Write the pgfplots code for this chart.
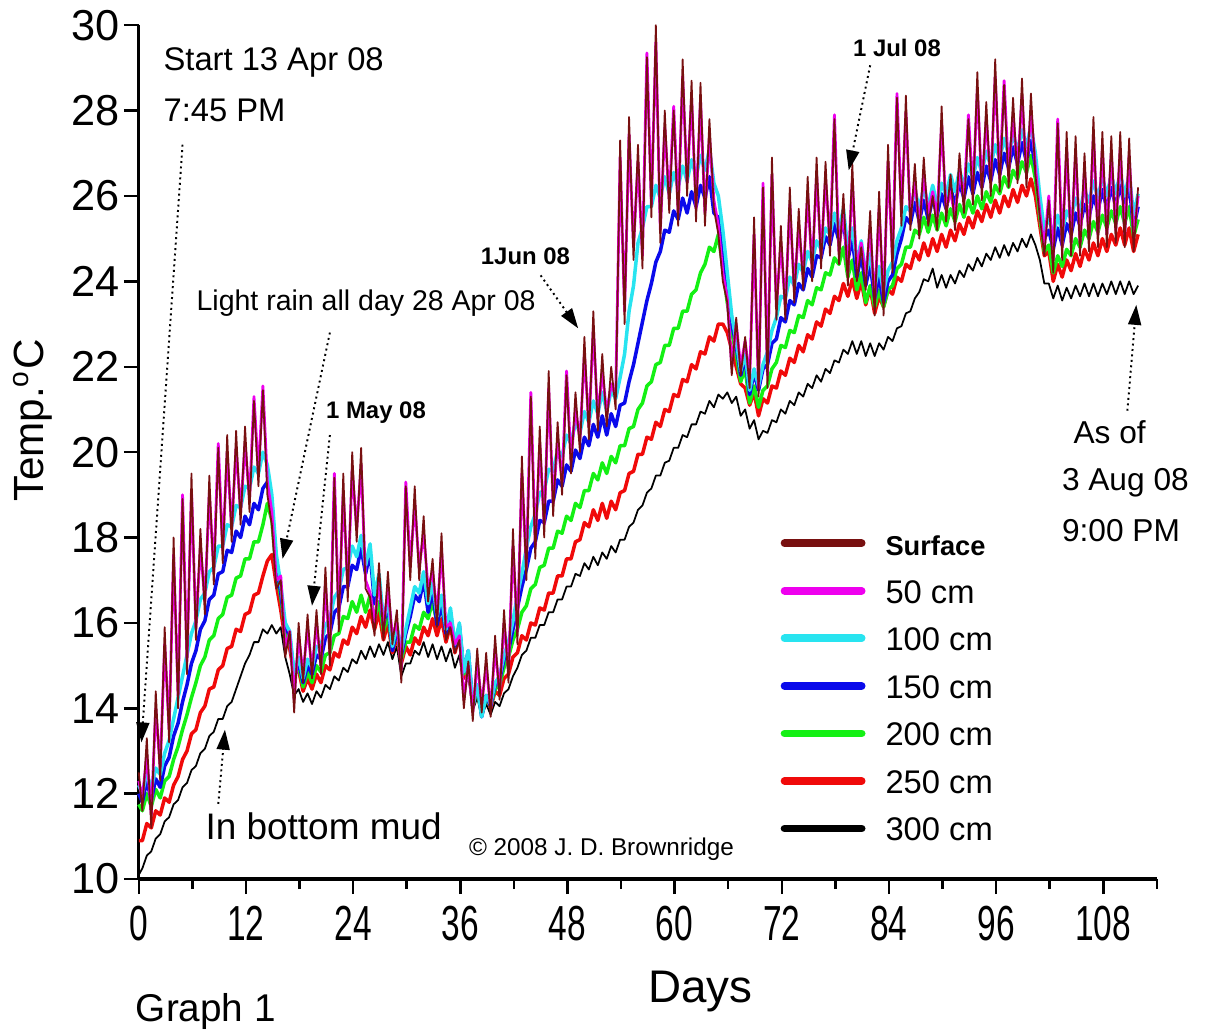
\documentclass[border=0pt]{standalone}
\usepackage{fontspec}
\setmainfont{Liberation Sans}
\newfontfamily\narrowfont[FakeStretch=0.68]{Liberation Sans}
\usepackage{pgfplots}
\usepackage{pgfplotstable}
\pgfplotsset{compat=1.18}
\usetikzlibrary{arrows.meta}

% x = days since start; S = surface, M..K = 50..300 cm
\pgfplotstableread{
x S M C B G R K
0 12.5 12.3 12.2 12.0 11.75 10.9 10.1
0.4 11.6 11.9 12.0 11.8 11.6 10.9 10.25
0.9 13.3 12.9 12.5 12.3 12.0 11.3 10.55
1.4 11.2 11.5 12.1 11.85 11.7 11.2 10.65
1.9 14.4 14.0 12.6 12.35 12.1 11.6 10.95
2.4 12.3 12.6 12.45 12.15 11.9 11.5 11.05
2.9 15.9 15.5 12.95 12.65 12.3 11.9 11.35
3.4 13.2 13.5 13.25 12.85 12.4 11.8 11.45
3.9 18.0 17.6 13.75 13.35 12.8 12.2 11.75
4.4 14.0 14.3 14.25 13.65 13.1 12.4 11.85
4.9 18.9 19.0 14.75 14.15 13.5 12.8 12.15
5.4 14.8 15.1 15.25 14.55 13.85 13.0 12.25
5.9 19.5 19.1 15.75 15.05 14.25 13.4 12.55
6.4 15.6 15.9 16.05 15.35 14.6 13.5 12.65
6.9 18.2 17.8 16.55 15.85 15.0 13.9 12.95
7.4 16.2 16.5 16.7 16.05 15.2 14.05 13.05
7.9 19.45 19.05 17.2 16.55 15.6 14.45 13.35
8.4 16.9 17.2 17.3 16.65 15.7 14.5 13.45
8.9 20.1 20.2 17.8 17.15 16.1 14.9 13.75
9.4 17.4 17.7 17.8 17.2 16.2 15.0 13.75
9.9 20.4 20.0 18.3 17.7 16.6 15.4 14.05
10.4 17.9 18.2 18.25 17.65 16.65 15.45 14.15
10.9 20.5 20.1 18.75 18.15 17.05 15.85 14.45
11.4 18.3 18.6 18.7 18.0 17.1 15.8 14.75
11.9 20.6 20.2 19.2 18.5 17.5 16.2 15.05
12.4 18.6 18.9 19.15 18.3 17.5 16.25 15.25
12.9 21.2 21.3 19.65 18.8 17.9 16.65 15.55
13.4 19.2 19.5 19.5 18.65 17.9 16.7 15.55
13.9 21.45 21.55 20.0 19.15 18.3 17.1 15.85
14.4 19.0 19.3 19.7 19.3 18.8 17.45 15.75
14.9 18.3 18.6 19.0 18.8 18.4 17.6 15.95
15.4 16.8 17.0 17.6 17.4 17.2 16.9 15.75
15.9 17.0 17.1 16.9 16.7 16.6 16.3 15.9
16.4 15.2 15.4 16.0 15.9 15.8 15.6 15.2
16.9 15.8 15.8 15.8 15.7 15.6 15.4 14.8
17.4 13.9 14.2 14.8 14.7 14.8 14.8 14.3
17.9 16.0 15.7 15.2 15.1 15.0 14.9 14.45
18.4 14.6 14.8 14.7 14.6 14.5 14.4 14.15
18.9 16.2 15.9 15.15 15.0 14.85 14.7 14.35
19.4 14.7 14.9 14.95 14.8 14.6 14.45 14.1
19.9 16.3 16.0 15.45 15.25 15.0 14.8 14.4
20.4 14.8 15.0 15.45 15.15 14.85 14.6 14.25
20.9 17.3 16.9 15.95 15.65 15.25 15.0 14.55
21.4 15.0 15.3 16.1 15.75 15.3 14.9 14.45
21.9 19.4 19.5 16.6 16.25 15.7 15.3 14.75
22.4 15.8 16.1 16.75 16.35 15.75 15.2 14.65
22.9 19.5 19.1 17.25 16.85 16.15 15.6 14.95
23.4 16.5 16.8 17.3 16.85 16.1 15.5 14.85
23.9 20.0 19.6 17.8 17.35 16.5 15.9 15.15
24.4 17.9 18.2 17.55 17.25 16.25 15.75 15.05
24.9 20.1 19.7 18.05 17.75 16.65 16.15 15.35
25.4 16.8 17.0 17.35 17.15 16.25 15.9 15.15
25.9 16.6 16.7 17.85 17.65 16.65 16.3 15.45
26.4 15.7 16.0 16.65 16.45 16.1 15.85 15.2
26.9 17.4 17.0 17.15 16.95 16.5 16.25 15.5
27.4 15.6 15.9 16.05 15.95 15.8 15.6 15.25
27.9 17.2 16.8 16.55 16.45 16.2 16.0 15.55
28.4 15.5 15.7 15.45 15.35 15.4 15.3 15.15
28.9 16.3 16.0 15.95 15.85 15.8 15.7 15.45
29.4 14.6 14.9 15.35 15.25 15.15 15.05 14.75
29.9 19.2 19.3 15.85 15.75 15.55 15.45 15.05
30.4 17.0 17.3 16.35 16.15 15.55 15.25 15.05
30.9 19.2 18.8 16.85 16.65 15.95 15.65 15.35
31.4 17.0 17.3 16.7 16.5 15.85 15.5 15.25
31.9 18.5 18.1 17.2 17.0 16.25 15.9 15.55
32.4 16.5 16.8 16.45 16.25 16.1 15.7 15.2
32.9 17.5 17.2 16.95 16.75 16.5 16.1 15.5
33.4 15.9 16.2 16.15 15.95 16.0 15.7 15.15
33.9 18.1 17.7 16.65 16.45 16.4 16.1 15.45
34.4 15.6 15.9 15.85 15.75 15.8 15.55 15.1
34.9 15.9 16.0 16.35 16.25 16.2 15.95 15.4
35.4 15.3 15.5 15.5 15.45 15.45 15.3 14.95
35.9 15.6 15.7 16.0 15.95 15.85 15.7 15.25
36.4 14.0 14.2 14.85 14.85 14.8 14.7 14.45
36.9 15.1 15.0 15.35 15.35 15.2 15.1 14.75
37.4 13.7 13.9 14.05 14.05 14.05 14.05 13.95
37.9 15.4 15.1 14.55 14.55 14.45 14.45 14.25
38.4 13.9 14.1 13.8 13.8 13.85 13.9 13.8
38.9 15.3 15.0 14.3 14.3 14.25 14.3 14.1
39.4 13.8 14.0 14.1 14.05 14.05 14.0 13.85
39.9 15.7 15.4 14.6 14.55 14.45 14.4 14.15
40.4 14.2 14.4 14.75 14.65 14.55 14.3 14.05
40.9 16.3 16.0 15.25 15.15 14.95 14.7 14.35
41.4 14.6 14.9 15.55 15.35 15.2 14.8 14.45
41.9 18.2 17.8 16.05 15.85 15.6 15.2 14.75
42.4 15.5 15.8 16.65 16.35 15.85 15.3 14.95
42.9 19.9 19.5 17.15 16.85 16.25 15.7 15.25
43.4 17.0 17.3 17.75 17.25 16.4 15.6 15.35
43.9 21.3 21.4 18.25 17.75 16.8 16.0 15.65
44.4 17.5 17.8 18.55 17.9 16.9 15.95 15.65
44.9 20.6 20.2 19.05 18.4 17.3 16.35 15.95
45.4 18.0 18.3 19.1 18.35 17.35 16.3 15.95
45.9 21.9 21.5 19.6 18.85 17.75 16.7 16.25
46.4 18.5 18.8 19.55 18.85 17.75 16.7 16.25
46.9 20.7 20.3 20.05 19.35 18.15 17.1 16.55
47.4 19.0 19.3 19.9 19.2 18.1 17.1 16.55
47.9 21.8 21.9 20.4 19.7 18.5 17.5 16.85
48.4 19.5 19.8 20.2 19.55 18.4 17.5 16.85
48.9 21.4 21.0 20.7 20.05 18.8 17.9 17.15
49.4 20.0 20.3 20.45 19.85 18.7 17.95 17.1
49.9 22.7 22.3 20.95 20.35 19.1 18.35 17.4
50.4 20.3 20.6 20.7 20.15 19.1 18.25 17.25
50.9 23.3 22.9 21.2 20.65 19.5 18.65 17.55
51.4 20.5 20.8 20.9 20.35 19.35 18.4 17.35
51.9 22.3 21.9 21.4 20.85 19.75 18.8 17.65
52.4 20.6 20.9 20.95 20.4 19.5 18.45 17.5
52.9 22.0 21.6 21.45 20.9 19.9 18.85 17.8
53.4 21.0 21.3 21.25 20.6 19.75 18.65 17.65
53.9 27.3 26.9 21.75 21.1 20.15 19.05 17.95
54.4 23.0 23.3 22.3 21.15 20.15 19.1 17.95
54.9 27.85 27.45 23.3 21.65 20.55 19.5 18.25
55.4 24.5 24.8 23.9 22.05 20.6 19.55 18.35
55.9 27.2 26.8 24.9 22.55 21.0 19.95 18.65
56.4 24.3 24.6 25.25 23.05 21.15 19.95 18.75
56.9 29.25 29.35 25.75 23.55 21.55 20.35 19.05
57.4 25.5 25.8 25.75 23.95 21.65 20.3 19.15
57.9 30.0 29.6 26.25 24.45 22.05 20.7 19.45
58.4 24.9 25.2 25.95 24.7 22.1 20.6 19.45
58.9 28.0 27.6 26.45 25.2 22.5 21.0 19.75
59.4 25.6 25.9 26.05 25.15 22.5 20.95 19.8
59.9 28.0 28.1 26.55 25.65 22.9 21.35 20.1
60.4 25.3 25.6 26.2 25.45 22.9 21.3 20.1
60.9 29.2 28.8 26.7 25.95 23.3 21.7 20.4
61.4 26.0 26.3 26.35 25.6 23.3 21.65 20.35
61.9 28.7 28.3 26.85 26.1 23.7 22.05 20.65
62.4 25.4 25.7 26.45 25.75 23.8 21.95 20.65
62.9 28.65 28.25 26.95 26.25 24.2 22.35 20.95
63.4 25.3 25.6 26.6 25.95 24.4 22.3 20.9
63.9 27.8 27.4 27.1 26.45 24.8 22.7 21.2
64.4 25.7 25.9 26.3 25.6 24.7 22.6 21.05
64.9 25.1 25.3 26.0 25.5 25.1 23.0 21.35
65.4 24.0 24.2 25.2 24.8 24.3 23.0 21.25
65.9 23.5 23.6 24.2 23.9 23.5 22.8 21.4
66.4 21.8 22.0 23.2 23.0 22.8 22.4 21.15
66.9 23.15 23.0 22.6 22.5 22.3 22.0 21.3
67.4 21.8 22.0 21.9 21.8 21.65 21.6 20.85
67.9 22.7 22.6 22.3 22.2 21.95 21.5 21.0
68.4 21.5 21.7 21.45 21.35 21.15 21.1 20.55
68.9 25.5 25.1 21.95 21.85 21.55 21.4 20.75
69.4 21.3 21.5 21.55 21.45 21.05 20.85 20.3
69.9 26.2 26.3 22.05 21.95 21.45 21.25 20.5
70.4 21.5 21.8 22.35 22.05 21.55 21.15 20.45
70.9 26.9 26.5 22.85 22.55 21.95 21.55 20.75
71.4 23.1 23.4 23.15 22.65 22.1 21.5 20.7
71.9 25.3 24.9 23.65 23.15 22.5 21.9 21.0
72.4 23.1 23.4 23.6 23.05 22.45 21.8 20.9
72.9 26.2 25.8 24.1 23.55 22.85 22.2 21.2
73.4 23.5 23.8 23.9 23.45 22.8 22.1 21.1
73.9 25.7 25.3 24.4 23.95 23.2 22.5 21.4
74.4 23.8 24.1 24.2 23.8 23.15 22.35 21.3
74.9 26.45 26.05 24.7 24.3 23.55 22.75 21.6
75.4 24.0 24.3 24.45 24.1 23.45 22.65 21.5
75.9 26.9 26.5 24.95 24.6 23.85 23.05 21.8
76.4 24.3 24.6 24.75 24.55 23.8 22.95 21.65
76.9 26.8 26.4 25.25 25.05 24.2 23.35 21.95
77.4 24.6 24.9 25.1 24.85 24.15 23.25 21.85
77.9 27.8 27.9 25.6 25.35 24.55 23.65 22.15
78.4 24.4 24.7 25.2 24.95 24.4 23.55 22.1
78.9 26.05 25.65 25.7 25.45 24.8 23.95 22.4
79.4 23.9 24.2 24.75 24.5 24.1 23.65 22.3
79.9 26.75 26.35 25.25 25.0 24.5 24.05 22.6
80.4 24.0 24.3 24.45 24.1 23.8 23.6 22.3
80.9 24.8 24.9 24.95 24.6 24.2 24.0 22.6
81.4 23.8 24.1 24.15 23.9 23.5 23.45 22.25
81.9 25.65 25.25 24.65 24.4 23.9 23.85 22.55
82.4 23.2 23.5 23.85 23.6 23.4 23.25 22.25
82.9 26.1 25.7 24.35 24.1 23.8 23.65 22.55
83.4 23.2 23.5 23.75 23.5 23.4 23.4 22.4
83.9 27.2 26.8 24.25 24.0 23.8 23.8 22.7
84.4 24.2 24.5 24.45 24.15 23.9 23.7 22.6
84.9 28.3 28.4 24.95 24.65 24.3 24.1 22.9
85.4 25.3 25.6 25.25 25.0 24.4 24.0 22.95
85.9 28.35 27.95 25.75 25.5 24.8 24.4 23.25
86.4 25.2 25.5 25.65 25.35 24.8 24.3 23.3
86.9 26.75 26.35 26.15 25.85 25.2 24.7 23.6
87.4 25.0 25.3 25.7 25.4 25.1 24.5 23.75
87.9 26.9 26.5 26.2 25.9 25.5 24.9 24.05
88.4 25.3 25.6 25.75 25.45 25.15 24.6 24.0
88.9 26.0 26.1 26.25 25.95 25.55 25.0 24.3
89.4 25.2 25.5 25.8 25.55 25.2 24.7 23.85
89.9 28.1 27.7 26.3 26.05 25.6 25.1 24.15
90.4 25.4 25.7 26.0 25.7 25.3 24.8 23.85
90.9 26.5 26.1 26.5 26.2 25.7 25.2 24.15
91.4 25.2 25.5 26.1 25.8 25.4 24.95 23.95
91.9 27.0 26.6 26.6 26.3 25.8 25.35 24.25
92.4 25.6 25.9 26.25 25.95 25.5 25.1 24.1
92.9 27.8 27.9 26.75 26.45 25.9 25.5 24.4
93.4 25.8 26.1 26.4 26.05 25.6 25.25 24.25
93.9 28.9 28.5 26.9 26.55 26.0 25.65 24.55
94.4 25.9 26.2 26.55 26.2 25.7 25.4 24.35
94.9 28.2 27.8 27.05 26.7 26.1 25.8 24.65
95.4 26.0 26.3 26.7 26.35 25.85 25.5 24.5
95.9 29.2 28.8 27.2 26.85 26.25 25.9 24.8
96.4 26.1 26.4 26.85 26.5 26.05 25.6 24.55
96.9 28.6 28.7 27.35 27.0 26.45 26.0 24.85
97.4 26.2 26.5 26.95 26.65 26.2 25.75 24.6
97.9 28.3 27.9 27.45 27.15 26.6 26.15 24.9
98.4 26.3 26.6 27.05 26.75 26.4 25.85 24.7
98.9 28.75 28.35 27.55 27.25 26.8 26.25 25.0
99.4 26.2 26.5 27.15 26.8 26.55 26.0 24.8
99.9 28.4 28.0 27.65 27.3 26.95 26.4 25.1
100.4 26.5 26.7 27.0 26.7 26.4 26.0 24.85
100.9 25.5 25.6 26.0 25.8 25.5 25.3 24.5
101.4 24.6 24.8 25.2 25.0 24.7 24.6 23.95
101.9 25.9 26.0 25.5 25.2 24.85 24.7 23.95
102.4 24.2 24.5 25.05 24.75 24.2 24.0 23.6
102.9 27.7 27.8 25.55 25.25 24.6 24.4 23.9
103.4 24.5 24.8 25.15 24.85 24.35 24.1 23.55
103.9 27.5 27.1 25.65 25.35 24.75 24.5 23.85
104.4 24.6 24.9 25.45 25.1 24.6 24.25 23.6
104.9 27.4 27.0 25.95 25.6 25.0 24.65 23.9
105.4 24.6 24.9 25.65 25.3 24.8 24.35 23.65
105.9 27.0 26.6 26.15 25.8 25.2 24.75 23.95
106.4 24.7 25.0 25.85 25.5 25.0 24.5 23.65
106.9 27.85 27.45 26.35 26.0 25.4 24.9 23.95
107.4 24.8 25.1 25.95 25.65 25.15 24.6 23.65
107.9 27.5 27.1 26.45 26.15 25.55 25.0 23.95
108.4 24.8 25.1 26.0 25.7 25.25 24.7 23.7
108.9 27.4 27.0 26.5 26.2 25.65 25.1 24.0
109.4 24.9 25.2 26.05 25.75 25.35 24.85 23.7
109.9 27.5 27.1 26.55 26.25 25.75 25.25 24.0
110.4 24.8 25.1 26.0 25.75 25.35 24.85 23.7
110.9 27.35 26.95 26.5 26.25 25.75 25.25 24.0
111.4 24.7 25.0 25.55 25.25 25.05 24.7 23.7
111.9 26.2 26.0 26.05 25.75 25.45 25.1 23.9
}\tempdata

\definecolor{surfcol}{RGB}{120,16,16}
\definecolor{cm50}{RGB}{238,0,238}
\definecolor{cm100}{RGB}{40,228,240}
\definecolor{cm150}{RGB}{10,10,235}
\definecolor{cm200}{RGB}{20,240,20}
\definecolor{cm250}{RGB}{240,10,10}

\tikzset{note/.style={inner sep=0pt, anchor=west},
  callout/.style={densely dotted, line width=0.55pt, -{Triangle[length=0.2cm,width=0.13cm]}}}

\begin{document}
\begin{tikzpicture}
\begin{axis}[
    width=10.17cm, height=8.53cm, scale only axis,
    xmin=0, xmax=114, ymin=10, ymax=30,
    axis x line*=bottom, axis y line*=left,
    axis line style={line width=0.9pt, -},
    xtick={0,12,...,108}, minor xtick={6,18,...,114},
    ytick={10,12,...,30},
    tick align=outside,
    major tick length=0.15cm, minor tick length=0.1cm,
    every tick/.style={black, line width=0.7pt},
    /pgf/number format/assume math mode=true,
    xticklabel style={font=\narrowfont\fontsize{14}{14}\selectfont},
    yticklabel style={font=\fontsize{12.3}{12.3}\selectfont, xshift=0.08cm},
    clip=false, no markers,
    legend style={at={(axis cs:71.8,18.44)}, anchor=north west, draw=none, fill=none,
        inner sep=0pt, row sep=0pt, column sep=0.2cm,
        font=\fontsize{9.3}{9.3}\selectfont,
        nodes={inner sep=0pt, text height=0.36cm, text depth=0.115cm}},
    legend cell align=left,
    legend image code/.code={\draw[#1, line width=2.2pt, line cap=round] (0cm,0cm) -- (0.77cm,0cm);},
    reverse legend,
]
\addplot[black, line width=0.5pt, line join=round] table[x=x, y=K] {\tempdata};
\addplot[cm250, line width=1pt, line join=round] table[x=x, y=R] {\tempdata};
\addplot[cm200, line width=1pt, line join=round] table[x=x, y=G] {\tempdata};
\addplot[cm150, line width=1pt, line join=round] table[x=x, y=B] {\tempdata};
\addplot[cm100, line width=1pt, line join=round] table[x=x, y=C] {\tempdata};
\addplot[cm50, line width=0.8pt, line join=round] table[x=x, y=M] {\tempdata};
\addplot[surfcol, line width=0.5pt, line join=round] table[x=x, y=S] {\tempdata};
\legend{300 cm, 250 cm, 200 cm, 150 cm, 100 cm, 50 cm, \textbf{\fontsize{7.75}{8}\selectfont Surface}}

% annotations
\node[note, font=\fontsize{9.3}{10}\selectfont] at (axis cs:2.7,29.13) {Start 13 Apr 08};
\node[note, font=\fontsize{9.3}{10}\selectfont] at (axis cs:2.7,28.0) {7:45 PM};
\draw[callout] (axis cs:4.9,27.2) -- (axis cs:0.3,13.2);
\node[note, font=\fontsize{8.1}{9}\selectfont] at (axis cs:6.4,23.48) {Light rain all day 28 Apr 08};
\draw[callout] (axis cs:21.4,22.8) -- (axis cs:16.1,17.5);
\node[note, font=\bfseries\fontsize{6.8}{8}\selectfont] at (axis cs:20.9,20.93) {1 May 08};
\draw[callout] (axis cs:21.4,20.4) -- (axis cs:19.4,16.4);
\node[inner sep=0pt, font=\bfseries\fontsize{6.8}{8}\selectfont] at (axis cs:43.3,24.58) {1Jun 08};
\draw[callout] (axis cs:45.0,24.14) -- (axis cs:49.2,22.9);
\node[inner sep=0pt, font=\bfseries\fontsize{6.8}{8}\selectfont] at (axis cs:84.9,29.46) {1 Jul 08};
\draw[callout] (axis cs:81.9,29.06) -- (axis cs:79.5,26.6);
\node[note, font=\fontsize{9}{10}\selectfont] at (axis cs:104.6,20.46) {As of};
\node[note, font=\fontsize{9}{10}\selectfont] at (axis cs:103.3,19.28) {3 Aug 08};
\node[note, font=\fontsize{9}{10}\selectfont] at (axis cs:103.3,18.16) {9:00 PM};
\draw[callout] (axis cs:110.7,20.97) -- (axis cs:111.7,23.45);
\node[note, font=\fontsize{10.5}{11}\selectfont] at (axis cs:7.4,11.24) {In bottom mud};
\draw[callout] (axis cs:8.9,11.76) -- (axis cs:9.65,13.5);
\node[note, font=\fontsize{6.9}{8}\selectfont] at (axis cs:36.9,10.7) {© 2008 J. D. Brownridge};
\node[note, font=\fontsize{11}{12}\selectfont] at (axis cs:-0.4,6.9) {Graph 1};
\node[font=\fontsize{13}{14}\selectfont] at (axis cs:62.9,7.37) {Days};
\node[rotate=90, font=\fontsize{12}{13}\selectfont] at (axis cs:-11.85,20.74) {Temp.\textsuperscript{o}C};

\coordinate (bl) at (axis cs:-15.54,6.366);
\coordinate (tr) at (axis cs:119.84,30.59);
\end{axis}
\pgfresetboundingbox
\useasboundingbox (bl) rectangle (tr);
\end{tikzpicture}
\end{document}
